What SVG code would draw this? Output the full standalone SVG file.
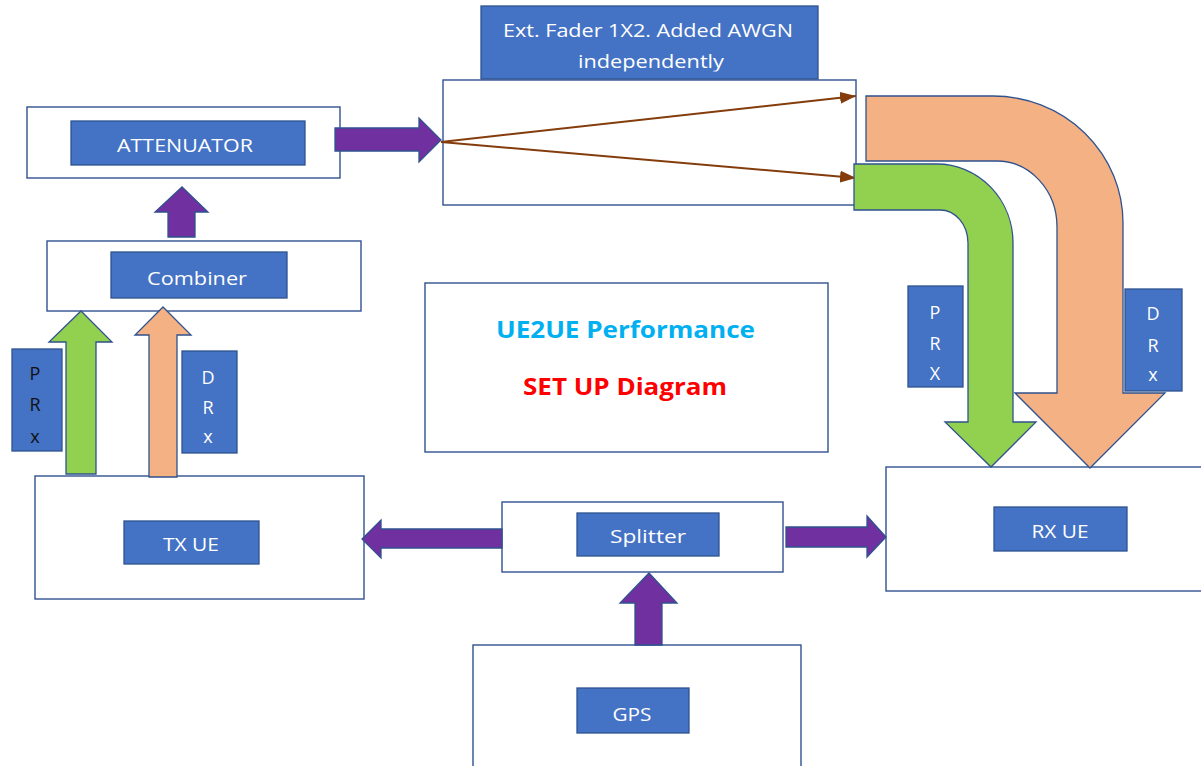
<svg xmlns="http://www.w3.org/2000/svg" width="1201" height="766" viewBox="0 0 1201 766">
<style>
.box{fill:#fff;stroke:#2F528F;stroke-width:1.4}
.lbl{fill:#4472C4;stroke:#2F528F;stroke-width:1.3}
.t{font-family:'Open Sans','Liberation Sans',sans-serif;font-size:19px;fill:#fff;text-anchor:middle}
.v{font-family:'Open Sans','Liberation Sans',sans-serif;font-size:18px;fill:#fff;text-anchor:middle}
.pur{fill:#7030A0;stroke:#2F528F;stroke-width:1.3;stroke-linejoin:miter}
.grn{fill:#92D050;stroke:#2F528F;stroke-width:1.3}
.pch{fill:#F4B183;stroke:#2F528F;stroke-width:1.3}
.brn{stroke:#843C0C;stroke-width:2;fill:none}
.ttl{font-family:'Open Sans','Liberation Sans',sans-serif;font-weight:bold;font-size:24px;text-anchor:middle}
</style>
<defs>
<marker id="ah" markerWidth="8" markerHeight="6" refX="8" refY="3" orient="auto" markerUnits="strokeWidth">
<path d="M0,0 L8,3 L0,6 Z" fill="#843C0C"/>
</marker>
<clipPath id="hdrclip"><rect x="470" y="0" width="360" height="71.5"/></clipPath>
</defs>
<rect width="1201" height="766" fill="#fff"/>

<g id="attenuator">
<rect class="box" x="27" y="107" width="313" height="71"/>
<rect class="lbl" x="71" y="121" width="234" height="44"/>
<text class="t" x="185" y="152" textLength="136" lengthAdjust="spacingAndGlyphs">ATTENUATOR</text>
</g>

<g id="fader">
<rect class="box" x="443" y="80" width="413" height="125"/>
<rect class="lbl" x="481" y="6" width="337" height="73"/>
<g clip-path="url(#hdrclip)">
<text class="t" x="648" y="37" textLength="290" lengthAdjust="spacingAndGlyphs">Ext. Fader 1X2. Added AWGN</text>
<text class="t" x="651" y="68" textLength="146" lengthAdjust="spacingAndGlyphs">independently</text>
</g>
</g>

<g id="combiner">
<rect class="box" x="47" y="241" width="314" height="70"/>
<rect class="lbl" x="111" y="252" width="176" height="46"/>
<text class="t" x="197" y="285" textLength="100" lengthAdjust="spacingAndGlyphs">Combiner</text>
</g>

<g id="title">
<rect class="box" x="425" y="283" width="403" height="169"/>
<text class="ttl" x="625.5" y="338" fill="#00B0F0" textLength="259" lengthAdjust="spacingAndGlyphs">UE2UE Performance</text>
<text class="ttl" x="625" y="395" fill="#FF0000" textLength="204" lengthAdjust="spacingAndGlyphs">SET UP Diagram</text>
</g>

<g id="tx-ue">
<rect class="box" x="35" y="476" width="329" height="123"/>
<rect class="lbl" x="124" y="521" width="135" height="43"/>
<text class="t" x="191" y="551" textLength="56" lengthAdjust="spacingAndGlyphs">TX UE</text>
</g>

<g id="splitter">
<rect class="box" x="502" y="502" width="281" height="70"/>
<rect class="lbl" x="577" y="513" width="142" height="43"/>
<text class="t" x="648" y="543" textLength="76" lengthAdjust="spacingAndGlyphs">Splitter</text>
</g>

<g id="gps">
<rect class="box" x="473" y="645" width="328" height="130"/>
<rect class="lbl" x="577" y="688" width="112" height="45"/>
<text class="t" x="632" y="721" textLength="39" lengthAdjust="spacingAndGlyphs">GPS</text>
</g>

<g id="rx-ue">
<rect class="box" x="886" y="467" width="330" height="124"/>
<rect class="lbl" x="994" y="507" width="133" height="44"/>
<text class="t" x="1060" y="538" textLength="57" lengthAdjust="spacingAndGlyphs">RX UE</text>
</g>

<g id="connectors">
<path class="pur" d="M335 128 L419 128 L419 118 L441 140 L419 162 L419 151 L335 151 Z"/>
<path class="pur" d="M168 237 L168 212 L155 212 L182 187 L208 212 L195 212 L195 237 Z"/>
<path class="pur" d="M502 529 L381 529 L381 520 L362 539 L381 558 L381 548 L502 548 Z"/>
<path class="pur" d="M786 527 L867 527 L867 516 L886 537 L867 557 L867 547 L786 547 Z"/>
<path class="pur" d="M635 645 L635 603 L620 603 L649 573 L677 603 L662 603 L662 645 Z"/>
<path class="grn" d="M66 474 L66 342 L49 342 L81 311 L112 342 L96 342 L96 474 Z"/>
<path class="pch" d="M149 477 L149 335 L135 335 L163 307 L191 335 L177 335 L177 477 Z"/>
<line class="brn" x1="441" y1="142" x2="856" y2="96" marker-end="url(#ah)"/>
<line class="brn" x1="441" y1="142" x2="856" y2="178" marker-end="url(#ah)"/>
<path class="pch" d="M866 96 L993 96 A130 127 0 0 1 1123 223 L1123 393 L1165 393 L1090 468 L1015 393 L1057 393 L1057 227 A60 66 0 0 0 997 161 L866 161 Z"/>
<path class="grn" d="M854 164 L937 164 A76 79 0 0 1 1013 243 L1013 422 L1036 422 L991 467 L945 422 L968 422 L968 243 A28 33 0 0 0 940 210 L854 210 Z"/>
</g>

<g id="prx-left">
<rect class="lbl" x="12" y="349" width="50" height="102"/>
<text class="v" x="35" y="380" fill="#000" style="fill:#111">P</text>
<text class="v" x="35" y="411" style="fill:#111">R</text>
<text class="v" x="35" y="443" style="fill:#111">x</text>
</g>
<g id="drx-left">
<rect class="lbl" x="182" y="351" width="55" height="102"/>
<text class="v" x="208" y="384">D</text>
<text class="v" x="208" y="414">R</text>
<text class="v" x="208" y="443">x</text>
</g>
<g id="prx-right">
<rect class="lbl" x="908" y="286" width="55" height="101"/>
<text class="v" x="935" y="319">P</text>
<text class="v" x="935" y="350">R</text>
<text class="v" x="935" y="380">X</text>
</g>
<g id="drx-right">
<rect class="lbl" x="1125" y="289" width="57" height="102"/>
<text class="v" x="1153" y="320">D</text>
<text class="v" x="1153" y="352">R</text>
<text class="v" x="1153" y="381">x</text>
</g>
</svg>
